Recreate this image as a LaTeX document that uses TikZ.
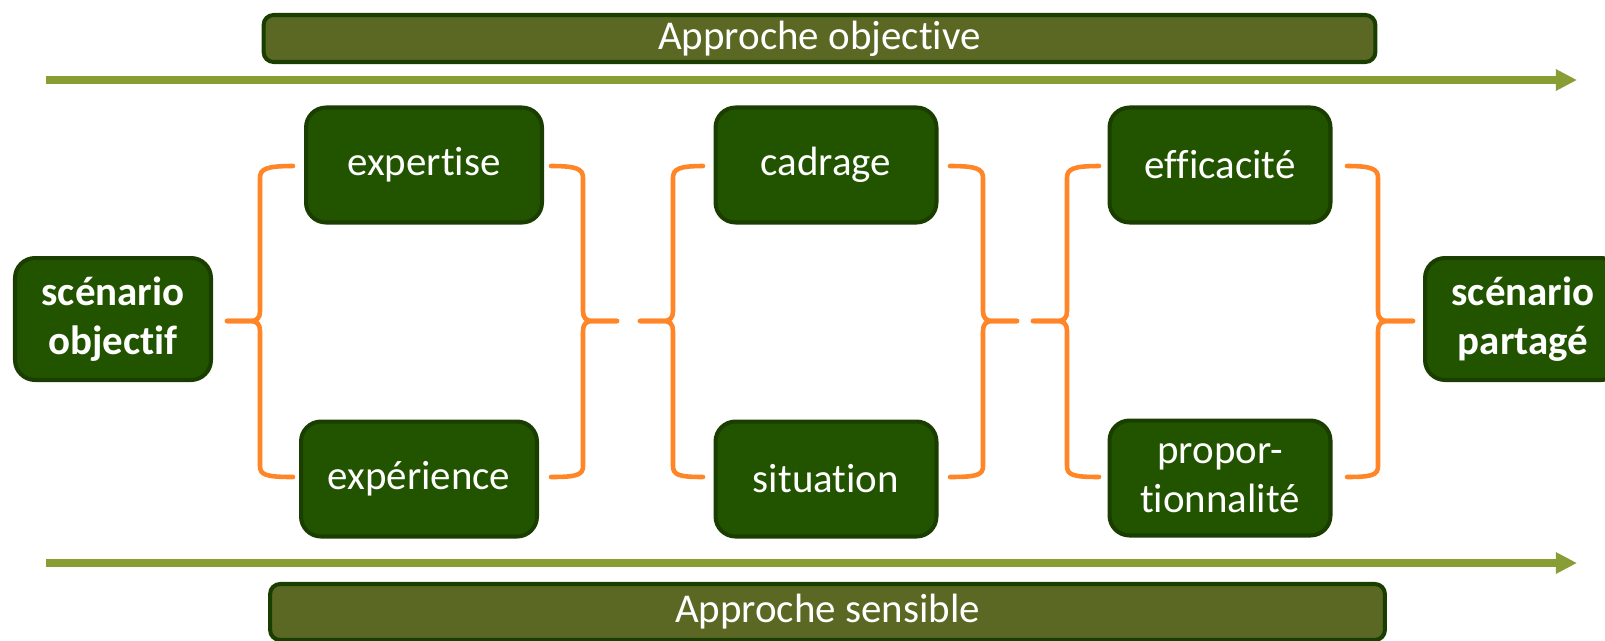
\documentclass[tikz,border=0pt]{standalone}
\usepackage{fontspec}
\setmainfont{Carlito}[Ligatures={NoCommon,NoContextual}]
\usepackage{tikz}
\tikzset{>=latex}
\usetikzlibrary{arrows.meta}
\definecolor{boxgreen}{HTML}{225400}
\definecolor{boxedge}{HTML}{1A3D00}
\definecolor{barolive}{HTML}{5A6823}
\definecolor{flowgreen}{HTML}{889E35}
\definecolor{braceorange}{HTML}{FF8527}

\begin{document}
\begin{tikzpicture}[x=0.02cm, y=-0.02cm,
    box/.style={draw=boxedge, line width=2.3pt, fill=boxgreen, text=white, rounded corners=0.4cm,
        align=center, inner sep=0pt, font=\fontsize{23.3}{27.9}\selectfont},
    wide/.style={box, minimum width=4.72cm, minimum height=2.3cm},
    narrow/.style={box, minimum width=4.42cm, minimum height=2.3cm},
    scen/.style={box, minimum width=3.92cm, minimum height=2.44cm, font=\fontsize{23.3}{27.9}\selectfont\bfseries},
    bar/.style={draw=boxedge, line width=2.3pt, fill=barolive, text=white, rounded corners=0.2cm,
        inner sep=0pt, font=\fontsize{23.3}{27.9}\selectfont},
    flow/.style={flowgreen, line width=4pt, -{Triangle[length=12pt, width=11.5pt]}},
    curly/.style={braceorange, line width=2.6pt, line cap=round}]
    \useasboundingbox (0,0) rectangle (1605,640);
    % the two approaches
    \node[bar, minimum width=22.24cm, minimum height=0.94cm] (topbar) at (819.5,38.5) {Approche objective};
    \node[bar, minimum width=22.3cm, minimum height=1.12cm] (botbar) at (827.5,612) {Approche sensible};
    \coordinate (objstart) at (46,80);
    \coordinate (objend) at (1577,80);
    \coordinate (sensstart) at (46,563);
    \coordinate (sensend) at (1577,563);
    \draw[flow] (objstart) -- (objend);
    \draw[flow] (sensstart) -- (sensend);
    % the steps
    \node[scen] (objectif) at (113,319) {scénario\\objectif};
    \node[wide] (expertise) at (424,165) {expertise};
    \node[wide] (experience) at (419,479) {expérience};
    \node[narrow] (cadrage) at (826,165) {cadrage};
    \node[narrow] (situation) at (826,479) {situation};
    \node[narrow] (efficacite) at (1220,165) {efficacité};
    \node[narrow] (proportion) at (1220,478) {propor-\\tionnalité};
    \node[scen] (partage) at (1523,319) {scénario\\partagé};
    % braces: spine x / tip x / arm x
    \foreach \vx/\tx/\ex in {260/227/293, 583/617/551, 673/640/703, 983/1017/950, 1067/1033/1099, 1378/1413/1347} {
        \pgfmathsetmacro\d{sign(\tx-\vx)}
        \draw[curly] (\tx,321) -- ({\vx+10*\d},321) .. controls ({\vx+3*\d},321) and (\vx,318) .. (\vx,311)
            -- (\vx,178) .. controls (\vx,169) and ({\vx-6*\d},166) .. (\ex,166);
        \draw[curly] (\tx,321) -- ({\vx+10*\d},321) .. controls ({\vx+3*\d},321) and (\vx,324) .. (\vx,331)
            -- (\vx,466) .. controls (\vx,475) and ({\vx-6*\d},477) .. (\ex,477);
    }
\end{tikzpicture}
\end{document}
